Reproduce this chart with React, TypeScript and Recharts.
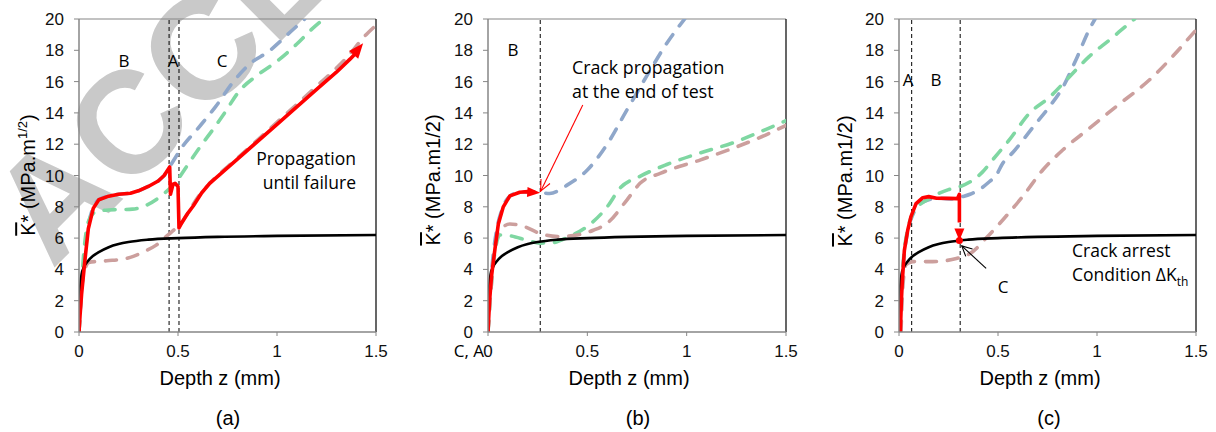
import React from 'react';
import { LineChart, Line, XAxis, YAxis, ReferenceLine, ReferenceDot } from 'recharts';

type Pt = { z: number; k: number };
const P = (arr: number[][]): Pt[] => arr.map(([z, k]) => ({ z, k }));

const xTicks = [0, 0.5, 1, 1.5];
const yTicks = [0, 2, 4, 6, 8, 10, 12, 14, 16, 18, 20];

// Threshold curve (black, same in all panels)
const thresholdCurve = [[0, 0], [0.003, 2.0], [0.007, 3.0], [0.013, 3.7], [0.025, 4.15], [0.04, 4.45], [0.07, 4.85], [0.1, 5.1], [0.15, 5.42], [0.2, 5.62], [0.25, 5.75], [0.35, 5.9], [0.5, 6.0], [0.7, 6.08], [1.0, 6.14], [1.5, 6.2]];

// Panel (a)
const aRed = [[0, 0], [0.005, 1.0], [0.013, 2.4], [0.03, 4.6], [0.047, 6.6], [0.072, 7.9], [0.1, 8.45], [0.15, 8.68], [0.2, 8.8], [0.26, 8.87], [0.3, 9.02], [0.35, 9.3], [0.4, 9.65], [0.43, 10.0], [0.458, 10.55], [0.462, 8.8], [0.475, 9.45], [0.485, 9.5], [0.5, 9.3], [0.505, 6.65], [0.52, 7.0], [0.55, 7.6], [0.577, 8.05], [0.62, 8.9], [0.66, 9.5], [0.8, 11.05], [1.0, 13.27], [1.2, 15.5], [1.3, 16.6], [1.37, 17.45], [1.4, 17.85]];
const aRedArrow = [[1.37, 17.45], [1.435, 18.45]];
const aBlue = [[0, 0], [0.005, 1.2], [0.013, 2.6], [0.03, 4.9], [0.045, 6.6], [0.07, 7.9], [0.1, 8.45], [0.15, 8.68], [0.2, 8.8], [0.26, 8.87], [0.3, 9.02], [0.35, 9.3], [0.4, 9.65], [0.43, 10.0], [0.46, 10.6], [0.52, 11.8], [0.6, 13.0], [0.69, 14.4], [0.78, 16.0], [0.86, 17.1], [0.96, 17.95], [1.07, 19.2], [1.14, 20]];
const aGreen = [[0, 0], [0.015, 3.5], [0.035, 6.3], [0.06, 7.4], [0.09, 7.7], [0.15, 7.8], [0.27, 7.85], [0.34, 8.1], [0.43, 8.85], [0.49, 9.6], [0.545, 10.6], [0.61, 11.8], [0.68, 13.0], [0.73, 13.9], [0.81, 15.4], [0.9, 16.4], [1.0, 17.3], [1.1, 18.4], [1.18, 19.4], [1.235, 20]];
const aPink = [[0, 0], [0.02, 3.5], [0.05, 4.45], [0.14, 4.55], [0.24, 4.7], [0.34, 5.2], [0.39, 5.55], [0.45, 6.2], [0.49, 6.6], [0.505, 6.65], [0.52, 7.0], [0.55, 7.6], [0.6, 8.6], [0.66, 9.5], [0.8, 11.1], [1.0, 13.4], [1.2, 15.7], [1.35, 17.5], [1.45, 19.0], [1.5, 19.6]];
const aLimits = [0.455, 0.505];

// Panel (b)
const bRed = [[0, 0], [0.008, 2.0], [0.018, 3.6], [0.035, 5.3], [0.052, 6.9], [0.077, 8.0], [0.11, 8.7], [0.16, 8.93], [0.2, 8.97], [0.235, 8.95]];
const bRedArrow = [[0.2, 8.95], [0.263, 8.9]];
const bBlue = [[0, 0], [0.01, 2.5], [0.025, 4.8], [0.045, 6.6], [0.07, 7.8], [0.1, 8.55], [0.15, 8.9], [0.2, 8.95], [0.27, 8.9], [0.31, 8.85], [0.4, 9.4], [0.5, 10.35], [0.6, 12.0], [0.7, 14.2], [0.815, 16.7], [0.9, 18.45], [0.99, 20]];
const bGreen = [[0, 0], [0.02, 3.5], [0.04, 5.5], [0.06, 6.2], [0.11, 6.15], [0.2, 5.85], [0.26, 5.68], [0.32, 5.7], [0.4, 6.05], [0.5, 6.75], [0.6, 8.0], [0.665, 9.2], [0.765, 9.95], [0.9, 10.7], [1.07, 11.45], [1.235, 12.1], [1.4, 12.95], [1.5, 13.5]];
const bPink = [[0, 0], [0.02, 3.5], [0.04, 5.8], [0.06, 6.5], [0.11, 6.9], [0.18, 6.75], [0.26, 6.3], [0.35, 6.1], [0.45, 6.2], [0.53, 6.5], [0.6, 6.95], [0.7, 8.45], [0.765, 9.5], [0.87, 10.15], [1.07, 11.0], [1.235, 11.75], [1.4, 12.6], [1.5, 13.2]];
const bLimits = [0.263];
const bNoteArrow = [[0.477, 14.5], [0.265, 9.0]];

// Panel (c)
const cRed = [[0.007, 0], [0.012, 2.0], [0.017, 3.3], [0.027, 5.2], [0.044, 6.5], [0.06, 7.35], [0.086, 8.2], [0.12, 8.58], [0.15, 8.65], [0.19, 8.55], [0.254, 8.54], [0.295, 8.52], [0.305, 8.8], [0.305, 7.0]];
const cRedArrow = [[0.305, 7.5], [0.305, 5.85]];
const cArrestPoint = [0.305, 5.85];
const cBlue = [[0, 0], [0.012, 2.8], [0.025, 4.8], [0.045, 6.5], [0.07, 7.5], [0.1, 8.1], [0.15, 8.45], [0.2, 8.55], [0.274, 8.5], [0.32, 8.65], [0.359, 8.8], [0.4, 9.05], [0.456, 9.6], [0.49, 10.0], [0.524, 10.78], [0.577, 11.5], [0.69, 13.3], [0.76, 14.4], [0.83, 15.7], [0.894, 17.4], [0.96, 19.3], [0.99, 20]];
const cGreen = [[0, 0], [0.012, 2.8], [0.025, 5.0], [0.045, 6.6], [0.07, 7.6], [0.1, 8.1], [0.13, 8.35], [0.2, 8.85], [0.25, 9.1], [0.31, 9.3], [0.36, 9.6], [0.42, 10.2], [0.473, 11.0], [0.557, 12.27], [0.658, 13.97], [0.76, 15.0], [0.86, 16.3], [0.96, 17.6], [1.063, 18.66], [1.18, 19.9], [1.19, 20]];
const cPink = [[0.01, 0], [0.02, 3.0], [0.035, 4.3], [0.07, 4.5], [0.17, 4.5], [0.29, 4.7], [0.372, 5.13], [0.44, 6.0], [0.524, 7.16], [0.624, 8.65], [0.726, 10.35], [0.827, 11.63], [0.96, 13.0], [1.096, 14.4], [1.264, 16.1], [1.5, 19.3]];
const cLimits = [0.064, 0.309];
const cNoteArrow = [[0.44, 4.07], [0.317, 5.5]];

const BLUE = '#8fa7ca';
const GREEN = '#7fd7a2';
const PINK = '#cc9f9d';
const AXIS = '#868686';
const SANS = '"Liberation Sans", Arial, sans-serif';
const NOTE = '"Open Sans", "Noto Sans", sans-serif';

const solidHead = (color: string, len: number, half: number) => (p: any) => {
  const { x1, y1, x2, y2 } = p;
  const a = Math.atan2(y2 - y1, x2 - x1);
  const bx = x2 - len * Math.cos(a);
  const by = y2 - len * Math.sin(a);
  const nx = -Math.sin(a) * half;
  const ny = Math.cos(a) * half;
  return <polygon points={`${x2},${y2} ${bx + nx},${by + ny} ${bx - nx},${by - ny}`} fill={color} />;
};

const openArrow = (color: string, len: number, half: number) => (p: any) => {
  const { x1, y1, x2, y2 } = p;
  const a = Math.atan2(y2 - y1, x2 - x1);
  const bx = x2 - len * Math.cos(a);
  const by = y2 - len * Math.sin(a);
  const nx = -Math.sin(a) * half;
  const ny = Math.cos(a) * half;
  return (
    <g>
      <line x1={x1} y1={y1} x2={x2} y2={y2} stroke={color} strokeWidth={1.1} />
      <polyline points={`${bx + nx},${by + ny} ${x2},${y2} ${bx - nx},${by - ny}`} fill="none" stroke={color} strokeWidth={1.1} />
    </g>
  );
};

const seg = (s: number[][]) => [{ x: s[0][0], y: s[0][1] }, { x: s[1][0], y: s[1][1] }];

interface PanelProps {
  left: number;
  yw: number;
  right: number;
  red: number[][];
  blue: number[][];
  green: number[][];
  pink: number[][];
  limits: number[];
  extras: React.ReactNode[];
}

const Panel = ({ left, yw, right, red, blue, green, pink, limits, extras }: PanelProps) => {
  const dashed = { strokeWidth: 3.6, strokeDasharray: '11 11', strokeLinecap: 'round' as const, dot: false, activeDot: false, isAnimationActive: false, type: 'monotone' as const, dataKey: 'k' };
  return (
    <div style={{ position: 'absolute', left, top: 0 }}>
      <LineChart width={400} height={432} margin={{ top: 19, right, bottom: 70, left: 0 }}>
        <XAxis type="number" dataKey="z" domain={[0, 1.5]} ticks={xTicks} allowDataOverflow
          tickFormatter={(v: number) => String(v)} height={30} tickSize={4} tickMargin={9}
          axisLine={{ stroke: AXIS, strokeWidth: 1.5 }} tickLine={{ stroke: AXIS }}
          tick={{ fontSize: 17, fill: '#111', fontFamily: SANS }} />
        <YAxis type="number" domain={[0, 20]} ticks={yTicks} allowDataOverflow width={yw}
          tickSize={5} tickMargin={10} interval={0}
          axisLine={{ stroke: AXIS, strokeWidth: 1.5 }} tickLine={{ stroke: AXIS }}
          tick={{ fontSize: 17, fill: '#111', fontFamily: SANS }} />
        <ReferenceLine y={20} stroke={AXIS} strokeWidth={1.2} />
        <ReferenceLine x={1.5} stroke="#000" strokeWidth={1.2} />
        {limits.map((v) => (
          <ReferenceLine key={'l' + v} x={v} stroke="#000" strokeWidth={1} strokeDasharray="4 3" />
        ))}
        <Line data={P(blue)} stroke={BLUE} {...dashed} />
        <Line data={P(green)} stroke={GREEN} {...dashed} />
        <Line data={P(pink)} stroke={PINK} {...dashed} />
        <Line data={P(thresholdCurve)} dataKey="k" type="monotone" stroke="#000" strokeWidth={2.6} dot={false} activeDot={false} isAnimationActive={false} />
        <Line data={P(red)} dataKey="k" type="linear" stroke="#ff0000" strokeWidth={3.6} strokeLinejoin="round" dot={false} activeDot={false} isAnimationActive={false} />
        {extras}
      </LineChart>
    </div>
  );
};

const abs = (x: number, y: number, extra: React.CSSProperties = {}): React.CSSProperties => ({
  position: 'absolute', left: x, top: y, transform: 'translate(-50%, -50%)', whiteSpace: 'nowrap', lineHeight: 1, ...extra,
});

const YLabel = ({ x, y, sup }: { x: number; y: number; sup: boolean }) => (
  <div style={abs(x, y, { transform: 'translate(-50%, -50%) rotate(-90deg)', fontFamily: SANS, fontSize: 20, color: '#000' })}>
    <span style={{ textDecoration: 'overline' }}>K</span>* (MPa.m{sup ? <sup style={{ fontSize: 13 }}>1/2</sup> : '1/2'})
  </div>
);

export default function App() {
  return (
    <div style={{ position: 'absolute', left: 0, top: 0, width: 1216, height: 432, background: '#fff', overflow: 'hidden' }}>
      <svg width={1216} height={432} style={{ position: 'absolute', left: 0, top: 0 }}>
        <text x={52} y={270} transform="rotate(-45 52 270)" fontSize={145} fontWeight="bold" fontFamily={SANS} fill="#c9c9c9">ACCE</text>
      </svg>

      <Panel left={0} yw={79} right={24} red={aRed} blue={aBlue} green={aGreen} pink={aPink} limits={aLimits}
        extras={[
          <ReferenceLine key="ah" segment={seg(aRedArrow)} shape={solidHead('#ff0000', 15, 6)} />,
        ]} />
      <Panel left={400} yw={88} right={14} red={bRed} blue={bBlue} green={bGreen} pink={bPink} limits={bLimits}
        extras={[
          <ReferenceLine key="bh" segment={seg(bRedArrow)} shape={solidHead('#ff0000', 13, 5)} />,
          <ReferenceLine key="bn" segment={seg(bNoteArrow)} shape={openArrow('#ff0000', 11, 5)} />,
        ]} />
      <Panel left={816} yw={83} right={20} red={cRed} blue={cBlue} green={cGreen} pink={cPink} limits={cLimits}
        extras={[
          <ReferenceLine key="ch" segment={seg(cRedArrow)} shape={solidHead('#ff0000', 12, 5)} />,
          <ReferenceDot key="cd" x={cArrestPoint[0]} y={cArrestPoint[1]} r={3.5} fill="#ff0000" stroke="none" />,
          <ReferenceLine key="cn" segment={seg(cNoteArrow)} shape={openArrow('#000', 10, 5)} />,
        ]} />

      {/* Panel (a) texts */}
      <div style={abs(124, 60, { fontFamily: NOTE, fontSize: 17 })}>B</div>
      <div style={abs(173, 60, { fontFamily: NOTE, fontSize: 17 })}>A</div>
      <div style={abs(222, 60, { fontFamily: NOTE, fontSize: 17 })}>C</div>
      <div style={{ position: 'absolute', right: 1216 - 356, top: 146, fontFamily: NOTE, fontSize: 17.5, lineHeight: '24px', textAlign: 'right', whiteSpace: 'nowrap' }}>
        Propagation<br />until failure
      </div>
      <div style={abs(220, 378, { fontFamily: SANS, fontSize: 20 })}>Depth z (mm)</div>
      <div style={abs(228, 418, { fontFamily: SANS, fontSize: 20 })}>(a)</div>
      <YLabel x={27} y={175} sup={true} />

      {/* Panel (b) texts */}
      <div style={abs(513, 49, { fontFamily: NOTE, fontSize: 17 })}>B</div>
      <div style={{ position: 'absolute', left: 572, top: 56, fontFamily: NOTE, fontSize: 17.8, lineHeight: '23.5px', whiteSpace: 'nowrap' }}>
        Crack propagation<br />at the end of test
      </div>
      <div style={{ position: 'absolute', right: 1216 - 484, top: 342, fontFamily: NOTE, fontSize: 17, lineHeight: 1, whiteSpace: 'nowrap' }}>C, A</div>
      <div style={abs(629, 378, { fontFamily: SANS, fontSize: 20 })}>Depth z (mm)</div>
      <div style={abs(638, 418, { fontFamily: SANS, fontSize: 20 })}>(b)</div>
      <YLabel x={433} y={180} sup={false} />

      {/* Panel (c) texts */}
      <div style={abs(908, 79, { fontFamily: NOTE, fontSize: 17 })}>A</div>
      <div style={abs(936, 79, { fontFamily: NOTE, fontSize: 17 })}>B</div>
      <div style={abs(1003, 286, { fontFamily: NOTE, fontSize: 17 })}>C</div>
      <div style={{ position: 'absolute', left: 1072, top: 238, fontFamily: NOTE, fontSize: 17.5, lineHeight: '24px', whiteSpace: 'nowrap' }}>
        Crack arrest<br />Condition ΔK<sub style={{ fontSize: 12 }}>th</sub>
      </div>
      <div style={abs(1040, 378, { fontFamily: SANS, fontSize: 20 })}>Depth z (mm)</div>
      <div style={abs(1049, 418, { fontFamily: SANS, fontSize: 20 })}>(c)</div>
      <YLabel x={845} y={181} sup={false} />
    </div>
  );
}
